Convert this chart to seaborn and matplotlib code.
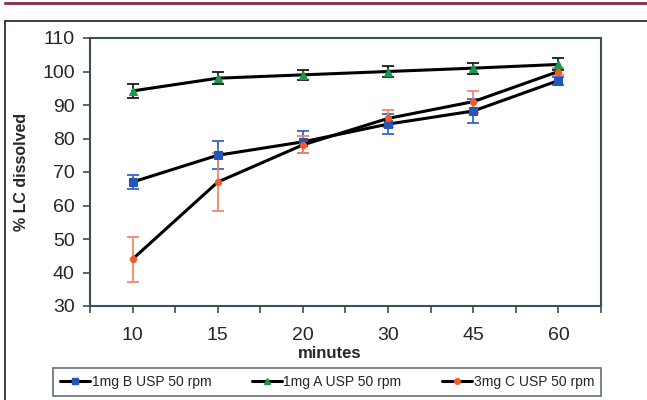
import numpy as np
import pandas as pd
import matplotlib.pyplot as plt
import seaborn as sns
from matplotlib.lines import Line2D
from matplotlib.ticker import MultipleLocator

minutes = ["10", "15", "20", "30", "45", "60"]

b_mean = [67, 75, 79, 84.3, 88.2, 97.3]
b_err = [2.2, 4.2, 3.3, 3.0, 3.5, 1.2]

a_mean = [94.2, 98, 99, 100, 101, 102.1]
a_err = [2.2, 1.8, 1.5, 1.5, 1.6, 1.8]

c_mean = [44, 67, 78.1, 86, 91, 100]
c_err = [6.7, 8.7, 2.5, 2.5, 3.3, 1.0]

labels = ["1mg B USP 50 rpm", "1mg A USP 50 rpm", "3mg C USP 50 rpm"]
colors = ["#2456b8", "#179a4a", "#f25a2a"]
err_colors = ["#3a62c8", "#1a1a1a", "#f4876a"]
markers = ["s", "^", "o"]
msizes = [5.5, 6, 4.5]

sns.set_style("white")
plt.rcParams["font.family"] = ["Liberation Sans", "DejaVu Sans"]

fig = plt.figure(figsize=(6.47, 4.0), dpi=100)
ax = fig.add_axes([90 / 647, 1 - 306 / 400, 511 / 647, 268 / 400])

pos = np.arange(len(minutes))
series = [(b_mean, b_err), (a_mean, a_err), (c_mean, c_err)]

for (m, e), lab, col, ecol, mk, ms in zip(series, labels, colors, err_colors, markers, msizes):
    df = pd.DataFrame({"pos": pos, "val": m})
    ax.errorbar(pos, m, yerr=e, fmt="none", ecolor=ecol, elinewidth=1.3,
                capsize=4, capthick=1.3, zorder=2)
    sns.lineplot(data=df, x="pos", y="val", ax=ax, color="black", lw=2.2,
                 marker=mk, markersize=ms, markerfacecolor=col,
                 markeredgecolor=col, zorder=3)

ax.set_xlim(-0.5, len(minutes) - 0.5)
ax.set_ylim(30, 110)
ax.set_xticks(pos)
ax.set_xticklabels(minutes)
ax.xaxis.set_minor_locator(MultipleLocator(1, offset=0.5))
ax.yaxis.set_major_locator(MultipleLocator(10))
ax.tick_params(axis="both", which="both", direction="out", length=5,
               width=1.2, color="#3c4c58", labelsize=14, pad=6)
ax.tick_params(axis="x", pad=10)
ax.tick_params(left=True, bottom=True)
ax.tick_params(axis="x", which="minor", bottom=True)

for sp in ax.spines.values():
    sp.set_color("#3c4c58")
    sp.set_linewidth(1.5)

ax.set_xlabel("minutes", fontsize=12, fontweight="bold")
ax.xaxis.set_label_coords((330 - 90) / 511, -40 / 268)
ax.set_ylabel("% LC dissolved", fontsize=11.5, fontweight="bold")
ax.yaxis.set_label_coords((29 - 90) / 511, (306 - 172) / 268)

handles = [Line2D([0], [0], color="black", lw=2.2, marker=mk, markersize=4,
                  markerfacecolor=col, markeredgecolor=col)
           for col, mk in zip(colors, markers)]
leg = fig.legend(handles, labels, loc="center", ncol=3,
                 bbox_to_anchor=(327 / 647, 1 - 382 / 400), frameon=True,
                 fancybox=False, fontsize=10, handlelength=2.2,
                 handletextpad=0.1, columnspacing=2.9, borderpad=0.5)
leg.get_frame().set_edgecolor("#3c4c58")
leg.get_frame().set_linewidth(1.2)

# page decorations
fig.add_artist(Line2D([5 / 647, 1], [1 - 3 / 400] * 2, color="#8b3a4e", lw=2.2))
fig.add_artist(Line2D([5 / 647, 1], [1 - 21 / 400] * 2, color="#2a1a10", lw=1.2))
fig.add_artist(Line2D([5 / 647] * 2, [0, 1 - 21 / 400], color="#2a1a10", lw=1.2))

fig.savefig("out.png", dpi=100)
